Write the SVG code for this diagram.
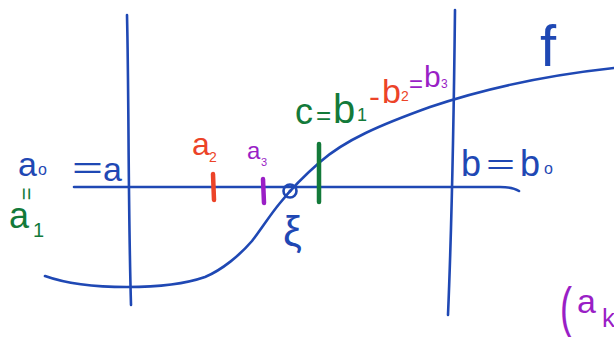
<svg xmlns="http://www.w3.org/2000/svg" width="614" height="337" viewBox="0 0 614 337">
<style>
.ln{fill:none;stroke:#1f48b4;stroke-width:2.6;stroke-linecap:round;stroke-linejoin:round}
.t{font-family:"Liberation Sans","DejaVu Sans",sans-serif}
.bl{fill:#1f48b4}.gr{fill:#137a3a}.rd{fill:#ec4328}.pu{fill:#9a1fc6}
.tick{stroke-width:4.5;stroke-linecap:round}
</style>
<rect width="614" height="337" fill="#fff"/>
<g id="axes">
<path class="ln" d="M127,15 C129,100 128,200 131,305"/>
<path class="ln" d="M455,10 C454,100 452,220 448,315"/>
<path class="ln" d="M74,187 L500,187 C510,187 516,189 519,191"/>
</g>
<g id="curve-f">
<path class="ln" d="M45,276 C70,285 100,287 127,287 C160,287 185,284 205,277 C222,270 240,255 252,241 C262,228 270,215 280,203 C292,188 305,175 320,162 C345,140 380,125 430,107 C480,90 540,76 614,68"/>
<text class="t bl" x="540" y="66" font-size="58">f</text>
</g>
<g id="a0">
<text class="t bl" x="18" y="176" font-size="34">a</text>
<text class="t bl" x="38" y="175" font-size="16">o</text>
<text class="t bl" x="72" y="178" font-size="30" textLength="31" lengthAdjust="spacingAndGlyphs">=</text>
<text class="t bl" x="103" y="181" font-size="34">a</text>
</g>
<g id="a1">
<text class="t gr" x="26" y="194" font-size="22" text-anchor="middle" dominant-baseline="central" transform="rotate(90 26 194)">=</text>
<text class="t gr" x="9" y="228" font-size="36">a</text>
<text class="t gr" x="33" y="237" font-size="20">1</text>
</g>
<g id="a2">
<text class="t rd" x="192" y="155" font-size="32">a</text>
<text class="t rd" x="209" y="162" font-size="14">2</text>
<line class="tick" x1="213" y1="174" x2="214" y2="200" stroke="#ec4328"/>
</g>
<g id="a3">
<text class="t pu" x="247" y="159" font-size="24">a</text>
<text class="t pu" x="261" y="166" font-size="11">3</text>
<line class="tick" x1="263" y1="179" x2="264" y2="203" stroke="#9a1fc6"/>
</g>
<g id="xi">
<circle cx="290" cy="191" r="6.5" fill="none" stroke="#1f48b4" stroke-width="2.6"/>
<circle cx="290" cy="191" r="1.5" fill="#1f48b4"/>
<text class="t bl" x="283" y="246" font-size="42">ξ</text>
</g>
<g id="c">
<line class="tick" x1="319" y1="144" x2="319" y2="202" stroke="#137a3a" stroke-width="4"/>
<text class="t gr" x="295" y="124" font-size="36">c</text>
<text class="t gr" x="316" y="124" font-size="26">=</text>
<text class="t gr" x="333" y="123" font-size="40">b</text>
<text class="t gr" x="357" y="121" font-size="18">1</text>
<text class="t rd" x="369" y="107" font-size="30" textLength="11" lengthAdjust="spacingAndGlyphs">-</text>
<text class="t rd" x="382" y="103" font-size="34">b</text>
<text class="t rd" x="401" y="101" font-size="14">2</text>
<text class="t pu" x="409" y="92" font-size="24" textLength="14" lengthAdjust="spacingAndGlyphs">=</text>
<text class="t pu" x="424" y="87" font-size="30">b</text>
<text class="t pu" x="441" y="88" font-size="12">3</text>
</g>
<g id="b0">
<text class="t bl" x="461" y="176" font-size="36">b</text>
<text class="t bl" x="486" y="174" font-size="28" textLength="29" lengthAdjust="spacingAndGlyphs">=</text>
<text class="t bl" x="520" y="176" font-size="36">b</text>
<text class="t bl" x="544" y="174" font-size="16">o</text>
</g>
<g id="ak">
<text class="t pu" x="560" y="326" font-size="56" textLength="12" lengthAdjust="spacingAndGlyphs">(</text>
<text class="t pu" x="577" y="313" font-size="34">a</text>
<text class="t pu" x="602" y="327" font-size="26">k</text>
</g>
</svg>
